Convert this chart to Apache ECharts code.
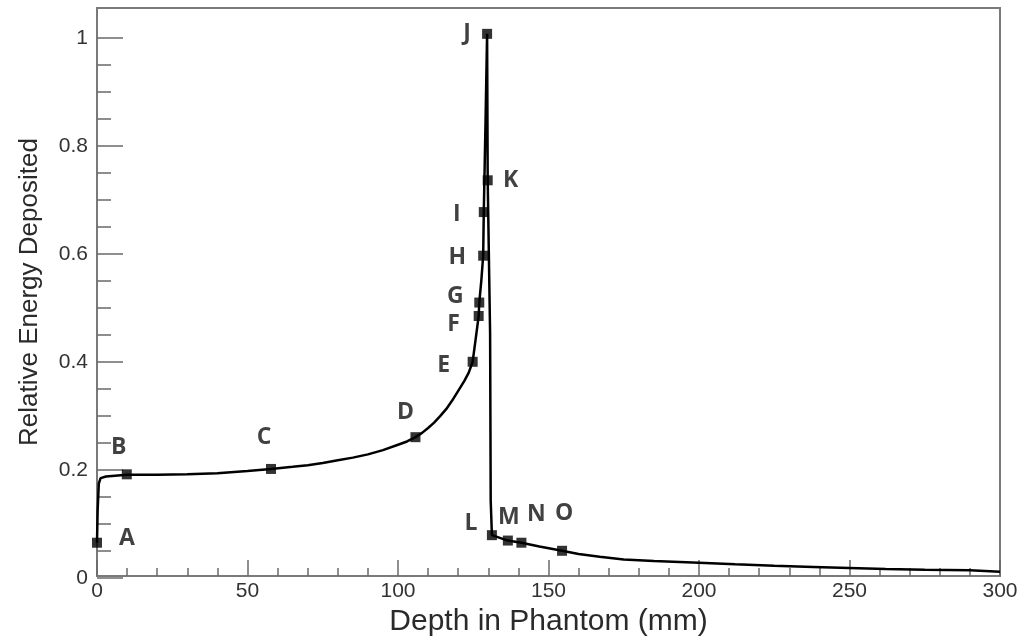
<!DOCTYPE html>
<html>
<head>
<meta charset="utf-8">
<script src="https://cdn.jsdelivr.net/npm/echarts@6/dist/echarts.min.js"></script>
<style>
html,body{margin:0;padding:0;background:#ffffff;}
#chart{width:1023px;height:642px;}
</style>
</head>
<body>
<div id="chart"></div>
<script>
// ---- data ----
const curveDepth = [0, 0.2, 0.6, 1.2, 3, 9.9, 20, 30, 40, 50, 57.8, 65, 70, 75, 80, 85, 90, 95, 100, 103, 105.8, 108, 110, 112, 114, 116, 118, 120, 122, 123.5, 124.8, 125.8, 126.8, 127.0, 127.7, 128.3, 128.5, 129.1, 129.6, 129.8, 130.6, 130.8, 131.2, 136.5, 141, 147, 154.5, 160, 167, 175, 185, 200, 212, 225, 238, 250, 262, 275, 290, 300];
const curveEnergy = [0.062, 0.12, 0.172, 0.182, 0.185, 0.188, 0.188, 0.189, 0.191, 0.195, 0.199, 0.203, 0.206, 0.210, 0.215, 0.220, 0.226, 0.234, 0.244, 0.250, 0.258, 0.266, 0.275, 0.285, 0.297, 0.310, 0.326, 0.344, 0.362, 0.378, 0.398, 0.44, 0.483, 0.508, 0.55, 0.595, 0.676, 0.85, 1.007, 0.735, 0.45, 0.14, 0.076, 0.066, 0.062, 0.055, 0.047, 0.041, 0.036, 0.031, 0.028, 0.025, 0.022, 0.019, 0.017, 0.015, 0.013, 0.012, 0.011, 0.008];

const markerNames  = ['A', 'B', 'C', 'D', 'E', 'F', 'G', 'H', 'I', 'J', 'K', 'L', 'M', 'N', 'O'];
const markerDepth  = [0, 9.9, 57.8, 105.8, 124.8, 126.8, 127.0, 128.3, 128.5, 129.6, 129.8, 131.2, 136.5, 141.0, 154.5];
const markerEnergy = [0.062, 0.189, 0.199, 0.258, 0.398, 0.483, 0.508, 0.595, 0.676, 1.007, 0.735, 0.076, 0.066, 0.062, 0.047];

const xAxisTitle = 'Depth in Phantom (mm)';
const yAxisTitle = 'Relative Energy Deposited';

// ---- label placement (style, not data) ----
const labelOffsets = {
  A: [30, -4], B: [-8, -27], C: [-7, -31], D: [-10, -25], E: [-29, 4],
  F: [-25, 8], G: [-24, -6], H: [-26, 2], I: [-27, 2], J: [-20, 0],
  K: [23, 0], L: [-21, -12], M: [1, -23], N: [15, -28], O: [2, -37]
};

// ---- layout ----
const W = 1023, H = 642;
const gLeft = 97, gRight = 23, gTop = 8, gBottom = 64;
const yMax = 1.055;
const plotH = H - gTop - gBottom;
const tickGridTop = H - gBottom - plotH / yMax; // where value 1.0 sits

const frameColor = '#7a7a7a';
const tickColor = '#6a6a6a';
const labelColor = '#333333';
const tickFont = 'Liberation Sans, Arial, sans-serif';

const lineData = curveDepth.map((d, i) => [d, curveEnergy[i]]);
const markerData = markerNames.map((n, i) => ({
  name: n,
  value: [markerDepth[i], markerEnergy[i]],
  label: { offset: labelOffsets[n] }
}));

const chart = echarts.init(document.getElementById('chart'), null, { renderer: 'canvas' });
chart.setOption({
  backgroundColor: '#ffffff',
  animation: false,
  grid: [
    { left: gLeft, right: gRight, top: gTop, bottom: gBottom, show: true,
      borderColor: frameColor, borderWidth: 2, backgroundColor: '#ffffff', containLabel: false },
    { left: gLeft, right: gRight, top: tickGridTop, bottom: gBottom, show: false, containLabel: false }
  ],
  xAxis: [
    {
      gridIndex: 0, type: 'value', min: 0, max: 300, interval: 50,
      name: xAxisTitle, nameLocation: 'middle', nameGap: 27,
      nameTextStyle: { fontFamily: tickFont, fontSize: 30, color: '#2a2a2a', verticalAlign: 'top' },
      axisLine: { show: true, onZero: false, lineStyle: { color: frameColor, width: 2 } },
      axisTick: { show: true, inside: true, length: 16, lineStyle: { color: tickColor, width: 1.5 } },
      minorTick: { show: true, splitNumber: 5, length: 8, lineStyle: { color: tickColor, width: 1.5 } },
      axisLabel: { show: true, margin: 5, fontFamily: tickFont, fontSize: 21, color: labelColor },
      splitLine: { show: false }
    },
    {
      gridIndex: 1, type: 'value', min: 0, max: 300, show: false
    }
  ],
  yAxis: [
    {
      gridIndex: 0, type: 'value', min: 0, max: yMax,
      name: yAxisTitle, nameLocation: 'middle', nameGap: 54, nameRotate: 90,
      nameTextStyle: { fontFamily: tickFont, fontSize: 26, color: '#2a2a2a' },
      axisLine: { show: true, onZero: false, lineStyle: { color: frameColor, width: 2 } },
      axisTick: { show: false },
      axisLabel: { show: false },
      splitLine: { show: false }
    },
    {
      gridIndex: 1, type: 'value', min: 0, max: 1, interval: 0.2,
      axisLine: { show: false },
      axisTick: { show: true, inside: true, length: 26, lineStyle: { color: tickColor, width: 1.5 } },
      minorTick: { show: true, splitNumber: 4, length: 14, lineStyle: { color: tickColor, width: 1.5 } },
      axisLabel: { show: true, margin: 9, fontFamily: tickFont, fontSize: 21, color: labelColor },
      splitLine: { show: false }
    }
  ],
  series: [
    {
      type: 'line', xAxisIndex: 0, yAxisIndex: 0, data: lineData,
      symbol: 'none', smooth: false,
      lineStyle: { color: '#000000', width: 2.5 }, z: 3
    },
    {
      type: 'scatter', xAxisIndex: 0, yAxisIndex: 0, data: markerData,
      symbol: 'rect', symbolSize: 10,
      itemStyle: { color: '#000000' },
      label: {
        show: true, position: 'inside', formatter: '{b}',
        fontFamily: 'Open Sans, Noto Sans, sans-serif', fontWeight: 'bold',
        fontSize: 23, color: '#111111'
      },
      z: 4
    }
  ]
});
</script>
</body>
</html>
